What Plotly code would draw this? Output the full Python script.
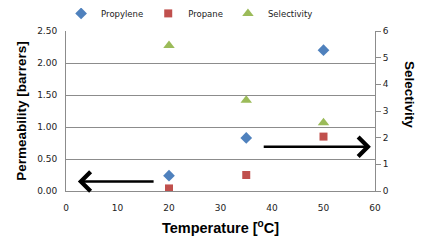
import plotly.graph_objects as go

temps = [20, 35, 50]
propylene = [0.24, 0.83, 2.20]
propane = [0.04, 0.25, 0.85]
selectivity = [5.46, 3.40, 2.56]

x_ticks = [0, 10, 20, 30, 40, 50, 60]
y_ticks = [0.0, 0.5, 1.0, 1.5, 2.0, 2.5]
y2_ticks = [0, 1, 2, 3, 4, 5, 6]

tick_font = dict(family="DejaVu Sans", size=9, color="#222222")
grid = "#8c8c8c"

# page body has an 8px default margin, so the figure is sized/offset to compensate
fig = go.Figure()
fig.add_trace(go.Scatter(x=temps, y=propylene, mode="markers", name="Propylene",
                         marker=dict(symbol="diamond", size=9, color="#4F81BD")))
fig.add_trace(go.Scatter(x=temps, y=propane, mode="markers", name="Propane",
                         marker=dict(symbol="square", size=8, color="#C0504D")))
fig.add_trace(go.Scatter(x=temps, y=selectivity, mode="markers", name="Selectivity",
                         yaxis="y2",
                         marker=dict(symbol="triangle-up", size=10, color="#9BBB59")))

fig.update_layout(
    width=429, height=238,
    margin=dict(l=58, r=62, t=23, b=55, autoexpand=False),
    paper_bgcolor="white", plot_bgcolor="white",
    showlegend=True,
    legend=dict(orientation="h", x=0.40, xanchor="center", y=1.11, yanchor="middle",
                font=dict(family="DejaVu Sans", size=8.5, color="#222222"),
                itemwidth=30, tracegroupgap=0, bgcolor="rgba(0,0,0,0)"),
    xaxis=dict(range=[0, 60], tickvals=x_ticks, showgrid=False, zeroline=False,
               showline=True, linecolor=grid, linewidth=1, ticks="",
               tickfont=tick_font, ticklabelstandoff=8,
               title=dict(text="Temperature [<sup>o</sup>C]", standoff=11,
                          font=dict(family="Liberation Sans", size=14.5, color="black",
                                    weight="bold"))),
    yaxis=dict(range=[0, 2.5], tickvals=y_ticks, tickformat=".2f", showgrid=True,
               gridcolor=grid, gridwidth=1, zeroline=False, showline=True,
               linecolor=grid, ticks="", tickfont=tick_font, ticklabelstandoff=6,
               title=dict(text="Permeability [barrers]", standoff=7,
                          font=dict(family="Liberation Sans", size=13.5, color="black",
                                    weight="bold"))),
    yaxis2=dict(range=[0, 6], tickvals=y2_ticks, overlaying="y", side="right",
                showgrid=False, zeroline=False, showline=True, linecolor=grid,
                ticks="outside", ticklen=5, tickcolor=grid, tickfont=tick_font),
)

fig.add_annotation(text="Selectivity", xref="paper", yref="paper", x=1.113, y=0.6,
                   textangle=90, showarrow=False, xanchor="center", yanchor="middle",
                   font=dict(family="Liberation Sans", size=13.5, color="black", weight="bold"))

# arrows
fig.add_annotation(x=2.3, y=0.15, ax=17.3, ay=0.15, xref="x", yref="y", axref="x", ayref="y",
                   text="", showarrow=True, arrowhead=4, arrowsize=1.5, arrowwidth=2.5,
                   arrowcolor="black")
fig.add_annotation(x=59.2, y=0.69, ax=38.1, ay=0.69, xref="x", yref="y", axref="x", ayref="y",
                   text="", showarrow=True, arrowhead=4, arrowsize=1.5, arrowwidth=2.5,
                   arrowcolor="black")

fig.write_html("out.html")
